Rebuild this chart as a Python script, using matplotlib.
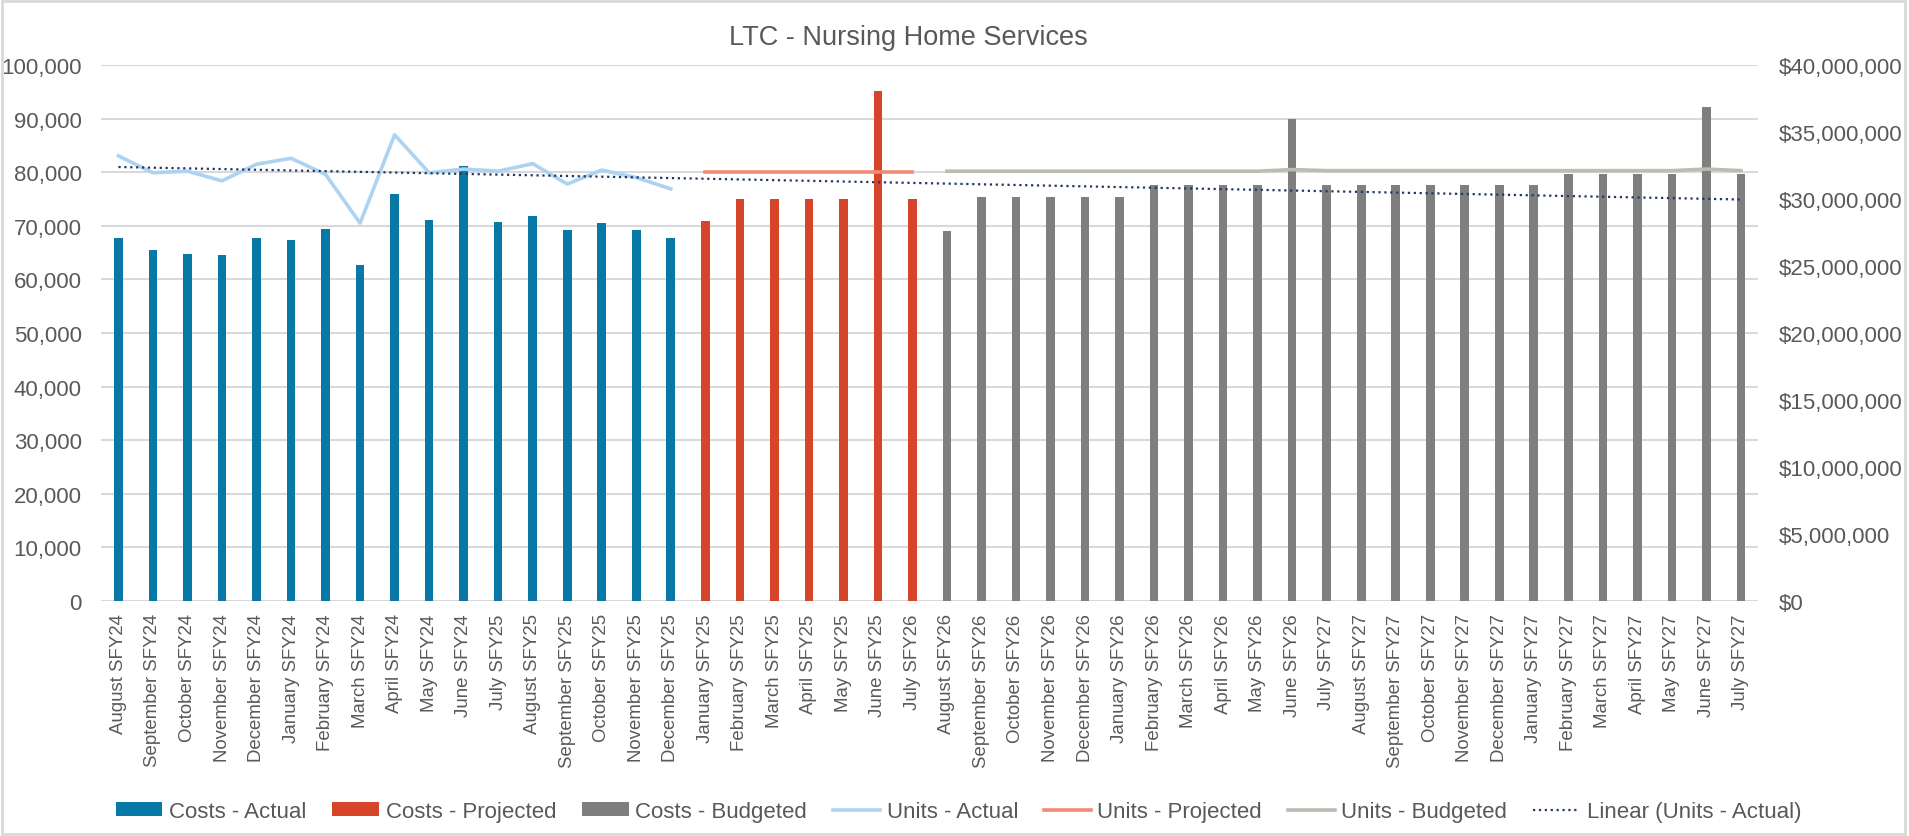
import matplotlib
matplotlib.use("Agg")
import matplotlib.pyplot as plt
import numpy as np
from matplotlib.patches import Rectangle
from matplotlib.ticker import FuncFormatter, MultipleLocator

plt.rcParams["font.family"] = ["Liberation Sans", "DejaVu Sans"]

# ---- data -------------------------------------------------------------
months = [
    "August SFY24", "September SFY24", "October SFY24", "November SFY24",
    "December SFY24", "January SFY24", "February SFY24", "March SFY24",
    "April SFY24", "May SFY24", "June SFY24", "July SFY25", "August SFY25",
    "September SFY25", "October SFY25", "November SFY25", "December SFY25",
    "January SFY25", "February SFY25", "March SFY25", "April SFY25",
    "May SFY25", "June SFY25", "July SFY26", "August SFY26",
    "September SFY26", "October SFY26", "November SFY26", "December SFY26",
    "January SFY26", "February SFY26", "March SFY26", "April SFY26",
    "May SFY26", "June SFY26", "July SFY27", "August SFY27",
    "September SFY27", "October SFY27", "November SFY27", "December SFY27",
    "January SFY27", "February SFY27", "March SFY27", "April SFY27",
    "May SFY27", "June SFY27", "July SFY27",
]

costs_actual = [
    27120000, 26160000, 25920000, 25840000, 27080000, 26960000, 27760000,
    25040000, 30400000, 28440000, 32480000, 28320000, 28720000, 27680000,
    28200000, 27680000, 27120000,
]
costs_projected = [28360000, 30040000, 30040000, 30040000, 30040000, 38040000, 30040000]
costs_budgeted = [
    27640000, 30160000, 30160000, 30160000, 30160000, 30160000,
    31040000, 31040000, 31040000, 31040000, 36000000,
    31040000, 31040000, 31040000, 31040000, 31040000, 31040000, 31040000,
    31840000, 31840000, 31840000, 31840000, 36840000, 31840000,
]

units_actual = [
    83050, 79900, 80200, 78400, 81500, 82600, 79600, 70500, 87000,
    79900, 80600, 80200, 81600, 77800, 80400, 79000, 76900,
]
units_projected = [80100, 80100, 80100, 80100, 80100, 80100, 80100]
units_budgeted = [
    80200, 80200, 80200, 80200, 80200, 80200, 80200, 80200, 80200, 80200, 80500,
    80300, 80300, 80300, 80300, 80300, 80300, 80300, 80300, 80300, 80300, 80300,
    80600, 80300,
]

# ---- positions --------------------------------------------------------
x = np.arange(len(months))
n_act = len(costs_actual)
n_proj = len(costs_projected)
x_act = x[:n_act]
x_proj = x[n_act:n_act + n_proj]
x_bud = x[n_act + n_proj:]

# Excel-style linear trendline of the actual units, extended over the chart
coef = np.polyfit(np.arange(n_act), units_actual, 1)
trend_x = np.array([x[0], x[-1]])
trend_y = np.polyval(coef, trend_x)

c_act = "#0879A6"
c_proj = "#D6442A"
c_bud = "#7F7F7F"
grid_c = "#D9D9D9"
text_c = "#595959"

fig = plt.figure(figsize=(19.09, 8.37), dpi=100)
rect = [0.053, 0.281, 0.868, 0.640]

# left axis (units) - holds the gridlines, sits at the back
ax = fig.add_axes(rect)
ax.set_zorder(1)
# right axis (costs) - bars
ax_cost = ax.twinx()
ax_cost.set_zorder(2)
ax_cost.patch.set_visible(False)
# lines over the bars, on the units scale
ax_line = ax.twinx()
ax_line.set_zorder(3)
ax_line.patch.set_visible(False)

w = 0.25
b1 = ax_cost.bar(x_act, costs_actual, w, color=c_act, label="Costs - Actual")
b2 = ax_cost.bar(x_proj, costs_projected, w, color=c_proj, label="Costs - Projected")
b3 = ax_cost.bar(x_bud, costs_budgeted, w, color=c_bud, label="Costs - Budgeted")

l1, = ax_line.plot(x_act, units_actual, color="#ADD3F0", lw=2.6, label="Units - Actual")
l2, = ax_line.plot(x_proj, units_projected, color="#EF8B76", lw=2.6, label="Units - Projected")
l3, = ax_line.plot(x_bud, units_budgeted, color="#BFBBB2", lw=2.6, label="Units - Budgeted")
l4, = ax_line.plot(trend_x, trend_y, color="#203864", lw=1.6, ls=":",
                   label="Linear (Units - Actual)")

for a in (ax, ax_cost, ax_line):
    a.set_xlim(-0.5, len(months) - 0.5)
    for s in a.spines.values():
        s.set_visible(False)

ax.set_ylim(0, 100000)
ax_line.set_ylim(0, 100000)
ax_cost.set_ylim(0, 40000000)

ax.yaxis.set_major_locator(MultipleLocator(10000))
ax.yaxis.set_major_formatter(FuncFormatter(lambda v, p: f"{v:,.0f}"))
ax.grid(axis="y", color=grid_c, lw=1.5)
ax.set_axisbelow(True)
ax.tick_params(axis="y", length=0, pad=14, labelsize=16, labelcolor=text_c)

ax_cost.yaxis.set_major_locator(MultipleLocator(5000000))
ax_cost.yaxis.set_major_formatter(FuncFormatter(lambda v, p: f"${v:,.0f}"))
ax_cost.tick_params(axis="y", length=0, pad=15, labelsize=16, labelcolor=text_c)

ax_line.set_yticks([])

ax.set_xticks(x)
ax.set_xticklabels(months, rotation=90)
ax.tick_params(axis="x", length=0, pad=9, labelsize=13.4, labelcolor=text_c)
ax_cost.tick_params(axis="x", length=0)
ax_line.tick_params(axis="x", length=0)

fig.text(0.476, 0.955, "LTC - Nursing Home Services", ha="center", va="center",
         fontsize=19.5, color=text_c)

fig.legend(handles=[b1, b2, b3, l1, l2, l3, l4], loc="center",
           bbox_to_anchor=(0.502, 0.029), ncol=7, frameon=False,
           fontsize=16, handlelength=2.1, handleheight=0.6,
           handletextpad=0.3, columnspacing=1.17, labelcolor=text_c)

# light chart border
fig.patches.append(Rectangle((0.001, 0.002), 0.997, 0.996, transform=fig.transFigure,
                             fill=False, edgecolor=grid_c, lw=2))

fig.savefig("out.png", dpi=100)
